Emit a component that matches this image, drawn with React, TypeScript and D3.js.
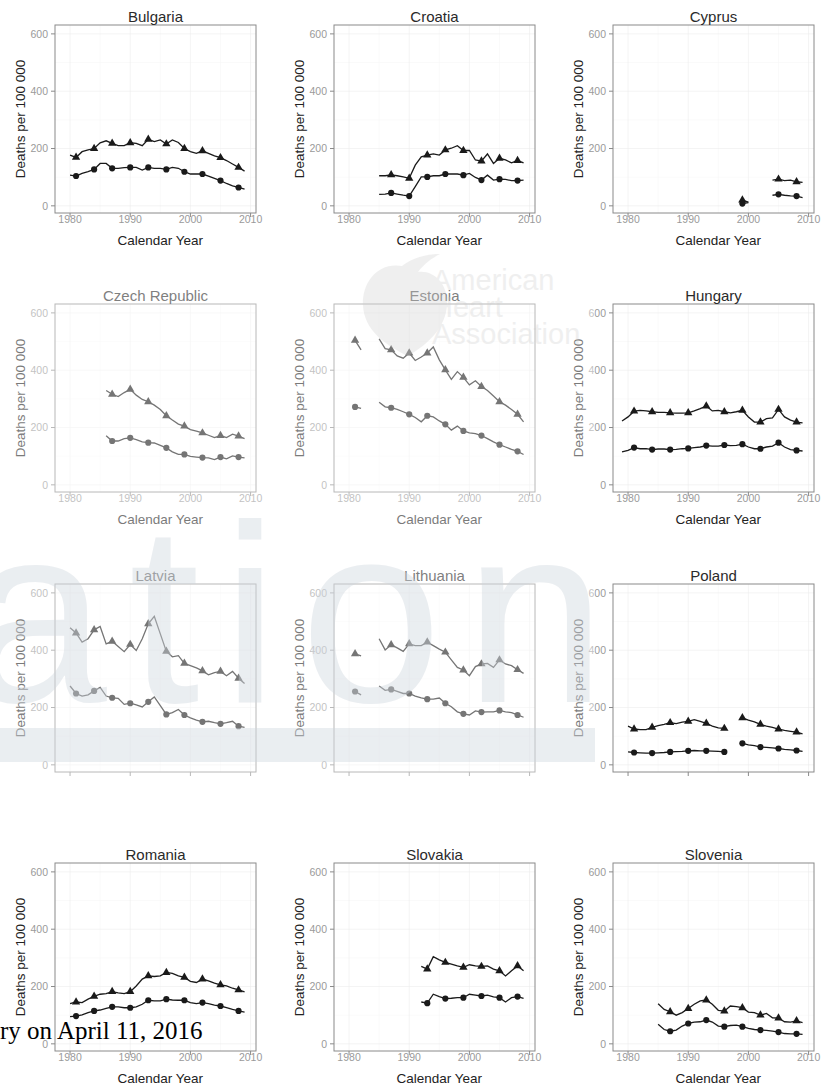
import React from "react";
import * as d3 from "d3";

const YEARS = [1979, 1980, 1981, 1982, 1983, 1984, 1985, 1986, 1987, 1988, 1989, 1990, 1991, 1992, 1993, 1994, 1995, 1996, 1997, 1998, 1999, 2000, 2001, 2002, 2003, 2004, 2005, 2006, 2007, 2008, 2009];
const MARKER_YEARS = [1981, 1984, 1987, 1990, 1993, 1996, 1999, 2002, 2005, 2008];
const X_TICKS = [1980, 1990, 2000, 2010];
const X_MINOR = [1985, 1995, 2005];
const Y_TICKS = [0, 200, 400, 600];
const Y_MINOR = [100, 300, 500];

const COUNTRIES = ["Bulgaria", "Croatia", "Cyprus", "Czech Republic", "Estonia", "Hungary", "Latvia", "Lithuania", "Poland", "Romania", "Slovakia", "Slovenia"];

const N = null;
const bulgariaUpper = [N, 177, 169, 189, 195, 200, 220, 227, 218, 210, 210, 220, 218, 210, 232, 224, 230, 216, 230, 221, 200, 189, 183, 192, 183, 174, 168, 158, 146, 134, 121];
const bulgariaLower = [N, 107, 104, 113, 119, 127, 148, 148, 131, 131, 133, 134, 134, 125, 134, 131, 131, 127, 134, 131, 119, 111, 111, 111, 104, 96, 88, 78, 70, 64, 58];
const croatiaUpper = [N, N, N, N, N, N, 105, 105, 108, 105, 101, 96, 142, 171, 177, 181, 177, 195, 201, 210, 193, 193, 160, 156, 181, 148, 166, 160, 150, 158, 150];
const croatiaLower = [N, N, N, N, N, N, 40, 41, 45, 41, 37, 34, 67, 101, 101, 105, 105, 111, 111, 111, 107, 113, 99, 90, 107, 90, 93, 92, 88, 88, 90];
const cyprusUpper = [N, N, N, N, N, N, N, N, N, N, N, N, N, N, N, N, N, N, N, N, 20, 13, N, N, N, 90, 93, 88, 90, 84, 82];
const cyprusLower = [N, N, N, N, N, N, N, N, N, N, N, N, N, N, N, N, N, N, N, N, 8, 11, N, N, N, 37, 40, 37, 35, 34, 29];
const czechUpper = [N, N, N, N, N, N, N, 329, 316, 308, 322, 333, 313, 298, 290, 278, 263, 241, 226, 212, 205, 193, 187, 181, 173, 165, 172, 165, 177, 170, 161];
const czechLower = [N, N, N, N, N, N, N, 171, 153, 153, 161, 164, 158, 150, 147, 146, 138, 129, 115, 106, 106, 99, 97, 95, 94, 88, 97, 91, 101, 97, 94];
const estoniaUpper = [N, N, 504, 471, N, N, 509, 475, 471, 450, 442, 460, 434, 446, 460, 481, 436, 401, 368, 395, 375, 349, 363, 343, 329, 310, 290, 278, 263, 246, 220];
const estoniaLower = [N, N, 272, 267, N, N, 288, 272, 269, 263, 255, 246, 235, 220, 241, 237, 223, 211, 191, 205, 188, 181, 179, 172, 161, 150, 140, 132, 124, 117, 106];
const hungaryUpper = [223, 237, 257, 260, 258, 255, 253, 253, 251, 250, 250, 251, 258, 266, 275, 258, 260, 255, 251, 255, 260, 237, 219, 219, 231, 234, 263, 237, 226, 219, 216];
const hungaryLower = [115, 120, 130, 126, 126, 123, 125, 125, 123, 124, 126, 127, 130, 132, 137, 135, 135, 139, 137, 138, 142, 132, 126, 126, 132, 135, 147, 132, 123, 120, 118];
const latviaUpper = [N, 478, 460, 428, 440, 471, 483, 422, 431, 413, 395, 420, 399, 440, 492, 518, 457, 396, 377, 381, 354, 346, 338, 328, 314, 322, 326, 311, 326, 302, 284];
const latviaLower = [N, 275, 249, 240, 244, 258, 270, 240, 234, 232, 211, 215, 209, 202, 220, 237, 207, 176, 182, 193, 174, 164, 156, 150, 152, 147, 143, 147, 152, 135, 131];
const lithuaniaUpper = [N, N, 387, 380, N, N, 440, 401, 419, 408, 396, 422, 416, 416, 428, 416, 404, 393, 366, 340, 331, 311, 343, 352, 354, 340, 366, 352, 346, 332, 319];
const lithuaniaLower = [N, N, 256, 244, N, N, 275, 260, 263, 256, 249, 249, 240, 234, 229, 229, 233, 215, 203, 185, 178, 174, 188, 184, 185, 185, 190, 185, 182, 174, 166];
const polandUpper = [N, 135, 125, 123, 123, 131, 137, 141, 147, 144, 149, 152, 158, 152, 145, 135, 129, 127, N, N, 164, 156, 150, 141, 135, 131, 125, 120, 117, 114, 108];
const polandLower = [N, 45, 43, 42, 41, 41, 42, 43, 45, 46, 47, 49, 50, 49, 49, 48, 47, 45, N, N, 75, 70, 67, 62, 61, 59, 57, 54, 52, 50, 47];
const romaniaUpper = [N, 140, 146, 144, 156, 166, 173, 175, 182, 178, 175, 182, 202, 226, 237, 235, 237, 249, 246, 237, 232, 218, 214, 226, 220, 212, 206, 202, 194, 188, 181];
const romaniaLower = [N, 95, 97, 101, 109, 115, 118, 124, 129, 129, 126, 126, 129, 138, 152, 150, 150, 156, 153, 152, 152, 144, 140, 144, 140, 135, 132, 126, 120, 115, 111];
const slovakiaUpper = [N, N, N, N, N, N, N, N, N, N, N, N, N, 270, 261, 304, 293, 284, 278, 272, 267, 276, 272, 270, 272, 261, 255, 237, 255, 272, 255];
const slovakiaLower = [N, N, N, N, N, N, N, N, N, N, N, N, N, 146, 142, 173, 165, 158, 159, 161, 161, 173, 170, 167, 170, 164, 161, 146, 161, 165, 159];
const sloveniaUpper = [N, N, N, N, N, N, 140, 120, 112, 100, 109, 123, 138, 150, 153, 138, 117, 114, 132, 130, 126, 111, 109, 100, 106, 91, 90, 77, 76, 80, 74];
const sloveniaLower = [N, N, N, N, N, N, 68, 50, 44, 48, 62, 71, 76, 77, 83, 76, 62, 60, 64, 65, 60, 54, 50, 48, 47, 44, 41, 36, 35, 35, 33];

const UPPER = [bulgariaUpper, croatiaUpper, cyprusUpper, czechUpper, estoniaUpper, hungaryUpper, latviaUpper, lithuaniaUpper, polandUpper, romaniaUpper, slovakiaUpper, sloveniaUpper];
const LOWER = [bulgariaLower, croatiaLower, cyprusLower, czechLower, estoniaLower, hungaryLower, latviaLower, lithuaniaLower, polandLower, romaniaLower, slovakiaLower, sloveniaLower];

const W = 825;
const H = 1085;
const COL_LEFT = [55, 334, 613];
const ROW_TOP = [25, 304, 584, 863];
const PW = 201;
const PH = 188;
const FONT = "'Liberation Sans', Arial, Helvetica, sans-serif";

const x = d3.scaleLinear().domain([1977.5, 2010.9]).range([0, PW]);
const y = d3.scaleLinear().domain([-25, 631]).range([PH, 0]);

type Pt = { yr: number; v: number | null };

function Panel({ idx }: { idx: number }) {
  const col = idx % 3;
  const row = Math.floor(idx / 3);
  const left = COL_LEFT[col];
  const top = ROW_TOP[row];
  const showXLabels = row !== 2;
  const line = d3
    .line<Pt>()
    .defined((d) => d.v != null)
    .x((d) => x(d.yr))
    .y((d) => y(d.v as number));
  const series = [UPPER[idx], LOWER[idx]].map((arr) => YEARS.map((yr, i) => ({ yr, v: arr[i] })));
  const tri = d3.symbol().type(d3.symbolTriangle).size(30)() as string;
  const circ = d3.symbol().type(d3.symbolCircle).size(30)() as string;
  return (
    <g transform={`translate(${left},${top})`}>
      <rect x={0} y={0} width={PW} height={PH} fill="#ffffff" />
      {X_MINOR.map((t) => (
        <line key={"xm" + t} x1={x(t)} x2={x(t)} y1={0} y2={PH} stroke="#f7f7f7" strokeWidth={0.6} />
      ))}
      {Y_MINOR.map((t) => (
        <line key={"ym" + t} x1={0} x2={PW} y1={y(t)} y2={y(t)} stroke="#f7f7f7" strokeWidth={0.6} />
      ))}
      {X_TICKS.map((t) => (
        <line key={"xg" + t} x1={x(t)} x2={x(t)} y1={0} y2={PH} stroke="#ececec" strokeWidth={0.6} />
      ))}
      {Y_TICKS.map((t) => (
        <line key={"yg" + t} x1={0} x2={PW} y1={y(t)} y2={y(t)} stroke="#ececec" strokeWidth={0.6} />
      ))}
      {series.map((s, i) => (
        <path key={"l" + i} d={line(s) || ""} fill="none" stroke="#1a1a1a" strokeWidth={1.3} />
      ))}
      {series.map((s, i) =>
        s
          .filter((d) => d.v != null && MARKER_YEARS.includes(d.yr))
          .map((d) => (
            <path
              key={"m" + i + "-" + d.yr}
              d={i === 0 ? tri : circ}
              transform={`translate(${x(d.yr)},${y(d.v as number)})`}
              fill="#1a1a1a"
            />
          ))
      )}
      <rect x={0} y={0} width={PW} height={PH} fill="none" stroke="#8a8a8a" strokeWidth={1} />
      {X_TICKS.map((t) => (
        <line key={"xt" + t} x1={x(t)} x2={x(t)} y1={PH} y2={PH + 4} stroke="#8a8a8a" strokeWidth={1} />
      ))}
      {Y_TICKS.map((t) => (
        <line key={"yt" + t} x1={-4} x2={0} y1={y(t)} y2={y(t)} stroke="#8a8a8a" strokeWidth={1} />
      ))}
      {Y_TICKS.map((t) => (
        <text key={"yl" + t} x={-7} y={y(t)} dy="0.36em" textAnchor="end" fontSize={10.5} fill="#9a9a9a" fontFamily={FONT}>
          {t}
        </text>
      ))}
      {showXLabels &&
        X_TICKS.map((t) => (
          <text key={"xl" + t} x={x(t)} y={PH + 9.5} textAnchor="middle" fontSize={10.5} fill="#9a9a9a" fontFamily={FONT}>
            {t}
          </text>
        ))}
      <text x={PW / 2} y={-3.5} textAnchor="middle" fontSize={15} fill="#2a2a2a" fontFamily={FONT}>
        {COUNTRIES[idx]}
      </text>
      <text
        transform={`translate(-30,${PH / 2}) rotate(-90)`}
        textAnchor="middle"
        fontSize={13.5}
        fill="#222222"
        fontFamily={FONT}
      >
        Deaths per 100 000
      </text>
      {showXLabels && (
        <text x={x(1995)} y={PH + 31.5} textAnchor="middle" fontSize={13.5} fill="#222222" fontFamily={FONT}>
          Calendar Year
        </text>
      )}
    </g>
  );
}

export default function App() {
  return (
    <svg width={W} height={H} viewBox={`0 0 ${W} ${H}`} style={{ position: "absolute", left: 0, top: 0, background: "#ffffff" }}>
      <rect x={0} y={0} width={W} height={H} fill="#ffffff" />
      {COUNTRIES.map((c, i) => (
        <Panel key={c} idx={i} />
      ))}
      {/* scan fading over middle-left area */}
      <rect x={0} y={258} width={595} height={520} fill="#ffffff" opacity={0.4} />
      {/* watermark */}
      <g opacity={0.4} fill="#cdd5dd">
        <text x={-35} y={702} fontSize={255} letterSpacing={22} fontFamily={FONT}>ation</text>
        <rect x={0} y={728} width={595} height={34} />
      </g>
      <g opacity={0.3} fill="#cccccc">
        <path d="M402,266 C378,262 362,282 363,305 C364,330 385,345 408,356 C428,344 446,328 447,304 C448,284 434,270 418,272 C424,264 432,258 440,254 C426,254 412,258 402,266 Z" />
        <text x={432} y={290} fontSize={29} fontFamily={FONT}>American</text>
        <text x={432} y={317} fontSize={29} fontFamily={FONT}>Heart</text>
        <text x={432} y={344} fontSize={29} fontFamily={FONT}>Association</text>
      </g>
      <text x={0} y={1039} fontSize={25} fill="#000000" fontFamily="'Liberation Serif', 'Times New Roman', serif">
        ry on April 11, 2016
      </text>
    </svg>
  );
}
